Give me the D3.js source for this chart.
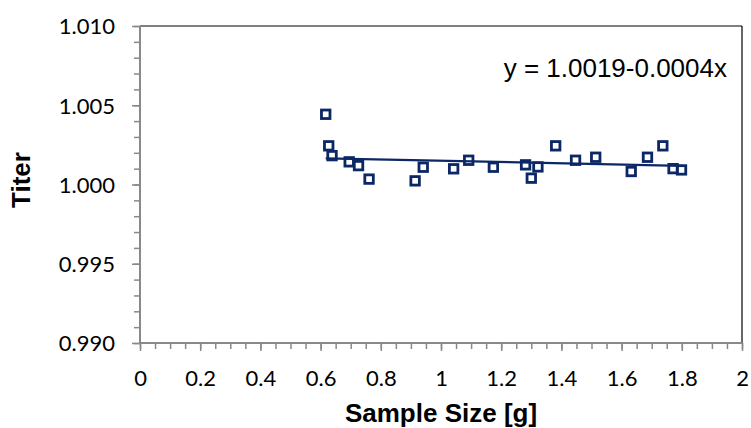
<!DOCTYPE html>
<html>
<head>
<meta charset="utf-8">
<script src="https://cdn.jsdelivr.net/npm/d3@7"></script>
<style>
  html, body { margin: 0; padding: 0; background: #fff; }
  svg { display: block; }
</style>
</head>
<body>
<svg id="chart" width="751" height="428"></svg>
<script>
// ---- data ----
const sampleSize = [0.617, 0.627, 0.638, 0.695, 0.726, 0.761, 0.914, 0.941, 1.042, 1.092, 1.174,
                    1.281, 1.300, 1.322, 1.381, 1.447, 1.514, 1.632, 1.686, 1.737, 1.771, 1.799];
const titer = [1.00443, 1.00244, 1.00182, 1.00143, 1.00119, 1.00034, 1.00023, 1.00109, 1.00099, 1.00153, 1.00109,
               1.00124, 1.00040, 1.00111, 1.00244, 1.00153, 1.00172, 1.00082, 1.00172, 1.00244, 1.00100, 1.00092];
const trendIntercept = 1.0019;
const trendSlope = -0.0004;
const trendLabel = "y = 1.0019-0.0004x";
const xTicks = [0, 0.2, 0.4, 0.6, 0.8, 1, 1.2, 1.4, 1.6, 1.8, 2];
const xTickLabels = ["0", "0.2", "0.4", "0.6", "0.8", "1", "1.2", "1.4", "1.6", "1.8", "2"];
const yTicks = [0.990, 0.995, 1.000, 1.005, 1.010];
const yTickLabels = ["0.990", "0.995", "1.000", "1.005", "1.010"];
const xTitle = "Sample Size [g]";
const yTitle = "Titer";

// ---- layout ----
const svg = d3.select("#chart");
const L = 140, R = 742, T = 26, B = 343;
const x = d3.scaleLinear().domain([0, 2]).range([L, R]);
const y = d3.scaleLinear().domain([0.990, 1.010]).range([B, T]);
const axisColor = "#898989";
const markColor = "#0b2766";
const tickFont = "Lato, 'Open Sans', sans-serif";
const titleFont = "'Liberation Sans', Arial, sans-serif";

// top and right border
svg.append("line").attr("x1", L).attr("x2", R).attr("y1", T).attr("y2", T)
  .attr("stroke", "#000").attr("stroke-width", 1.2);
svg.append("line").attr("x1", R).attr("x2", R).attr("y1", T).attr("y2", B)
  .attr("stroke", "#000").attr("stroke-width", 1.2);

// minor ticks
const xMinor = d3.range(0, 2.0001, 0.05);
const yMinor = d3.range(0.990, 1.01001, 0.001);
svg.append("g").attr("transform", `translate(0,${B})`)
  .call(d3.axisBottom(x).tickValues(xMinor).tickSize(6).tickFormat(""))
  .call(g => g.select(".domain").remove())
  .call(g => g.selectAll("line").attr("stroke", axisColor).attr("stroke-width", 1.5));
svg.append("g").attr("transform", `translate(${L},0)`)
  .call(d3.axisLeft(y).tickValues(yMinor).tickSize(6).tickFormat(""))
  .call(g => g.select(".domain").remove())
  .call(g => g.selectAll("line").attr("stroke", axisColor).attr("stroke-width", 1.5));

// major axes
const xAxis = svg.append("g").attr("transform", `translate(0,${B})`)
  .call(d3.axisBottom(x).tickValues(xTicks).tickSize(8).tickSizeOuter(0)
        .tickFormat((d, i) => xTickLabels[i]));
xAxis.select(".domain").attr("stroke", axisColor).attr("stroke-width", 2)
  .attr("d", `M${L},0H${R}`);
xAxis.selectAll(".tick line").attr("stroke", axisColor).attr("stroke-width", 1.5);
xAxis.selectAll(".tick text").attr("y", 43).attr("dy", null)
  .attr("font-family", tickFont).attr("font-size", 22).attr("fill", "#000");

const yAxis = svg.append("g").attr("transform", `translate(${L},0)`)
  .call(d3.axisLeft(y).tickValues(yTicks).tickSize(8).tickSizeOuter(0)
        .tickFormat((d, i) => yTickLabels[i]));
yAxis.select(".domain").attr("stroke", axisColor).attr("stroke-width", 2)
  .attr("d", `M0,${T}V${B}`);
yAxis.selectAll(".tick line").attr("stroke", axisColor).attr("stroke-width", 1.5);
yAxis.selectAll(".tick text").attr("x", -25).attr("dy", "0.36em")
  .attr("font-family", tickFont).attr("font-size", 22).attr("fill", "#000");

// trendline
const xExt = d3.extent(sampleSize);
svg.append("line")
  .attr("x1", x(xExt[0])).attr("y1", y(trendIntercept + trendSlope * xExt[0]))
  .attr("x2", x(xExt[1])).attr("y2", y(trendIntercept + trendSlope * xExt[1]))
  .attr("stroke", markColor).attr("stroke-width", 2.2);

// markers
const ms = 8.5;
svg.append("g").selectAll("rect")
  .data(sampleSize.map((d, i) => [d, titer[i]]))
  .join("rect")
  .attr("x", d => x(d[0]) - ms / 2)
  .attr("y", d => y(d[1]) - ms / 2)
  .attr("width", ms).attr("height", ms)
  .attr("fill", "none").attr("stroke", markColor).attr("stroke-width", 2.8);

// equation label
svg.append("text").attr("x", 727).attr("y", 77).attr("text-anchor", "end")
  .attr("font-family", titleFont).attr("font-size", 26).attr("fill", "#000")
  .text(trendLabel);

// axis titles
svg.append("text").attr("x", (L + R) / 2).attr("y", 422).attr("text-anchor", "middle")
  .attr("font-family", titleFont).attr("font-weight", "bold").attr("font-size", 26)
  .attr("fill", "#000").text(xTitle);
svg.append("text").attr("transform", `translate(30,180) rotate(-90)`).attr("text-anchor", "middle")
  .attr("font-family", titleFont).attr("font-weight", "bold").attr("font-size", 26)
  .attr("fill", "#000").text(yTitle);
</script>
</body>
</html>
